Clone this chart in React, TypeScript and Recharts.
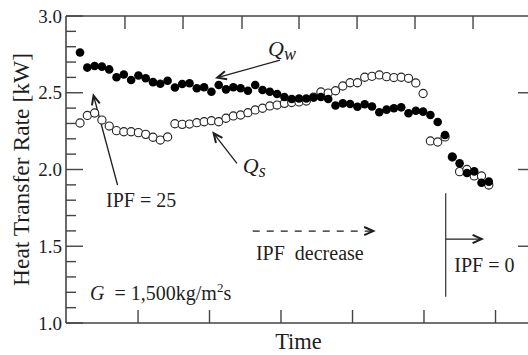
import React from "react";
import {
  ComposedChart,
  Scatter,
  XAxis,
  YAxis,
  ReferenceLine,
  ReferenceDot,
  Label,
} from "recharts";

const FONT = '"Liberation Serif", "Times New Roman", Times, serif';
const INK = "#1e1e1e";
const FRAME = "#444";

// heat transfer rate [kW], one reading per time step
const qw = [
  2.762, 2.664, 2.674, 2.670, 2.652, 2.601, 2.619, 2.583, 2.612, 2.594,
  2.569, 2.559, 2.578, 2.534, 2.557, 2.562, 2.529, 2.536, 2.507, 2.550,
  2.522, 2.536, 2.529, 2.513, 2.550, 2.518, 2.507, 2.492, 2.472, 2.459,
  2.463, 2.463, 2.469, 2.472, 2.459, 2.417, 2.431, 2.427, 2.409, 2.425,
  2.410, 2.373, 2.390, 2.399, 2.405, 2.366, 2.383, 2.377, 2.355, 2.309,
  2.225, 2.083, 2.040, 1.977, 1.988, 1.914, 1.921,
];

const qs = [
  2.303, 2.352, 2.368, 2.322, 2.283, 2.253, 2.246, 2.246, 2.240, 2.229,
  2.210, 2.192, 2.212, 2.298, 2.294, 2.296, 2.305, 2.311, 2.318, 2.311,
  2.334, 2.349, 2.355, 2.370, 2.388, 2.399, 2.414, 2.420, 2.431, 2.436,
  2.440, 2.446, 2.472, 2.505, 2.498, 2.513, 2.544, 2.565, 2.565, 2.601,
  2.607, 2.616, 2.605, 2.599, 2.601, 2.594, 2.564, 2.495, 2.186, 2.179,
  2.212, 2.081, 1.986, 2.000, 1.958, 1.958, 1.899,
];

const yTicks = [
  1.0, 1.1, 1.2, 1.3, 1.4, 1.5, 1.6, 1.7, 1.8, 1.9, 2.0,
  2.1, 2.2, 2.3, 2.4, 2.5, 2.6, 2.7, 2.8, 2.9, 3.0,
];
const rightTicks = [1.5, 2.0, 2.5];
const bottomTicks = [7.95, 17.74, 27.53, 37.33, 47.12, 56.92];
const topTicks = [6.16, 14.11, 22.19, 30.0, 37.95, 45.89, 53.84];

const xDomain = [-1.92, 61.78];

const qwPts = qw.map((v, i) => ({ t: i, v }));
const qsPts = qs.map((v, i) => ({ t: i, v }));

// annotation arrows, in data units
const arrows = [
  { from: { x: 27.4, y: 2.713 }, to: { x: 18.8, y: 2.598 } },
  { from: { x: 21.5, y: 2.04 }, to: { x: 18.3, y: 2.236 } },
  { from: { x: 5.14, y: 1.899 }, to: { x: 1.85, y: 2.482 } },
  { from: { x: 23.66, y: 1.599 }, to: { x: 40.18, y: 1.599 }, dash: "7 7" },
  { from: { x: 50.1, y: 1.547 }, to: { x: 55.03, y: 1.547 } },
];

const LeftTick = (p: any) => {
  const v = p.payload.value;
  const major = Math.abs(v * 2 - Math.round(v * 2)) < 1e-6;
  return (
    <g>
      <line x1={p.x} x2={p.x + (major ? 17 : 10)} y1={p.y} y2={p.y} stroke={FRAME} strokeWidth={1.4} />
      {major && (
        <text x={p.x - 4} y={p.y} dy="0.35em" textAnchor="end" fontFamily={FONT} fontSize={19} fill={INK}>
          {v.toFixed(1)}
        </text>
      )}
    </g>
  );
};

const RightTick = (p: any) => (
  <line x1={p.x} x2={p.x - 13} y1={p.y} y2={p.y} stroke={FRAME} strokeWidth={1.4} />
);
const TopTick = (p: any) => (
  <line x1={p.x} x2={p.x} y1={p.y} y2={p.y + 13} stroke={FRAME} strokeWidth={1.4} />
);
const BottomTick = (p: any) => (
  <line x1={p.x} x2={p.x} y1={p.y} y2={p.y - 13} stroke={FRAME} strokeWidth={1.4} />
);

const arrowShape = (dash?: string) => (p: any) => {
  const { x1, y1, x2, y2 } = p;
  const a = Math.atan2(y2 - y1, x2 - x1);
  const L = 10;
  const w = 0.42;
  const h1 = `${x2 - L * Math.cos(a - w)},${y2 - L * Math.sin(a - w)}`;
  const h2 = `${x2 - L * Math.cos(a + w)},${y2 - L * Math.sin(a + w)}`;
  return (
    <g>
      <line x1={x1} y1={y1} x2={x2 - Math.cos(a)} y2={y2 - Math.sin(a)} stroke={INK} strokeWidth={1.3} strokeDasharray={dash} />
      <polyline points={`${h1} ${x2},${y2} ${h2}`} fill="none" stroke={INK} strokeWidth={2} strokeLinejoin="miter" />
    </g>
  );
};

const plainLine = (p: any) => (
  <line x1={p.x1} y1={p.y1} x2={p.x2} y2={p.y2} stroke={INK} strokeWidth={1.1} />
);

const txt = (content: React.ReactNode, size = 20) => (p: any) => (
  <text x={p.cx} y={p.cy} fontFamily={FONT} fontSize={size} fill={INK}>
    {content}
  </text>
);

const openDot = (p: any) => (
  <circle cx={p.cx} cy={p.cy} r={4.1} fill="#fff" stroke="#222" strokeWidth={1.1} />
);
const filledDot = (p: any) => <circle cx={p.cx} cy={p.cy} r={4.3} fill="#000" />;

export default function App() {
  return (
    <div style={{ position: "fixed", left: 0, top: 0, width: 528, height: 355, overflow: "hidden", background: "#fff" }}>
      <ComposedChart width={540} height={355} margin={{ top: 15, right: 8, bottom: 0, left: 0 }}>
        <XAxis
          xAxisId="bot"
          dataKey="t"
          type="number"
          domain={xDomain}
          allowDataOverflow
          ticks={bottomTicks}
          interval={0}
          height={32}
          tickSize={0}
          tickMargin={0}
          tickLine={false}
          tick={<BottomTick />}
          axisLine={{ stroke: FRAME, strokeWidth: 1.6 }}
        >
          <Label
            content={(p: any) => (
              <text x={p.viewBox.x + p.viewBox.width / 2} y={p.viewBox.y + 26} textAnchor="middle" fontFamily={FONT} fontSize={22.5} fill={INK}>
                Time
              </text>
            )}
          />
        </XAxis>
        <XAxis
          xAxisId="top"
          orientation="top"
          dataKey="t"
          type="number"
          domain={xDomain}
          allowDataOverflow
          ticks={topTicks}
          interval={0}
          height={1}
          tickSize={0}
          tickMargin={0}
          tickLine={false}
          tick={<TopTick />}
          axisLine={{ stroke: FRAME, strokeWidth: 1.6 }}
        />
        <YAxis
          yAxisId="left"
          dataKey="v"
          type="number"
          domain={[1, 3]}
          allowDataOverflow
          ticks={yTicks}
          interval={0}
          width={66}
          tickSize={0}
          tickMargin={0}
          tickLine={false}
          tick={<LeftTick />}
          axisLine={{ stroke: FRAME, strokeWidth: 1.6 }}
        >
          <Label
            content={(p: any) => (
              <text
                transform={`translate(${p.viewBox.x + 29},${p.viewBox.y + p.viewBox.height / 2}) rotate(-90)`}
                textAnchor="middle"
                fontFamily={FONT}
                fontSize={23.5}
                fill={INK}
              >
                Heat Transfer Rate [kW]
              </text>
            )}
          />
        </YAxis>
        <YAxis
          yAxisId="right"
          orientation="right"
          dataKey="v"
          type="number"
          domain={[1, 3]}
          allowDataOverflow
          ticks={rightTicks}
          interval={0}
          width={1}
          tickSize={0}
          tickMargin={0}
          tickLine={false}
          tick={<RightTick />}
          axisLine={{ stroke: FRAME, strokeWidth: 1.6 }}
        />

        <Scatter xAxisId="bot" yAxisId="left" data={qsPts} dataKey="v" shape={openDot} isAnimationActive={false} />
        <Scatter xAxisId="bot" yAxisId="left" data={qwPts} dataKey="v" shape={filledDot} isAnimationActive={false} />

        {arrows.map((a, k) => (
          <ReferenceLine
            key={k}
            xAxisId="bot"
            yAxisId="left"
            segment={[a.from, a.to]}
            shape={arrowShape(a.dash)}
          />
        ))}
        <ReferenceLine
          xAxisId="bot"
          yAxisId="left"
          segment={[{ x: 50.1, y: 1.845 }, { x: 50.1, y: 1.171 }]}
          shape={plainLine}
        />

        <ReferenceDot
          xAxisId="bot"
          yAxisId="left"
          x={25.75}
          y={2.739}
          r={0}
          shape={txt(
            <>
              <tspan fontStyle="italic" fontSize={22}>Q</tspan>
              <tspan fontStyle="italic" fontSize={18} dy={4}>w</tspan>
            </>
          )}
        />
        <ReferenceDot
          xAxisId="bot"
          yAxisId="left"
          x={22.3}
          y={1.977}
          r={0}
          shape={txt(
            <>
              <tspan fontStyle="italic" fontSize={22}>Q</tspan>
              <tspan fontStyle="italic" fontSize={18} dy={4}>s</tspan>
            </>
          )}
        />
        <ReferenceDot xAxisId="bot" yAxisId="left" x={3.56} y={1.756} r={0} shape={txt("IPF = 25")} />
        <ReferenceDot xAxisId="bot" yAxisId="left" x={24.1} y={1.41} r={0} shape={txt("IPF\u00a0\u00a0decrease")} />
        <ReferenceDot xAxisId="bot" yAxisId="left" x={51.27} y={1.334} r={0} shape={txt("IPF = 0")} />
        <ReferenceDot
          xAxisId="bot"
          yAxisId="left"
          x={1.37}
          y={1.15}
          r={0}
          shape={txt(
            <>
              <tspan fontStyle="italic">G</tspan>
              <tspan>{"\u00a0\u00a0= 1,500kg/m"}</tspan>
              <tspan fontSize={13} dy={-8}>2</tspan>
              <tspan dy={8}>s</tspan>
            </>
          )}
        />
      </ComposedChart>
    </div>
  );
}
